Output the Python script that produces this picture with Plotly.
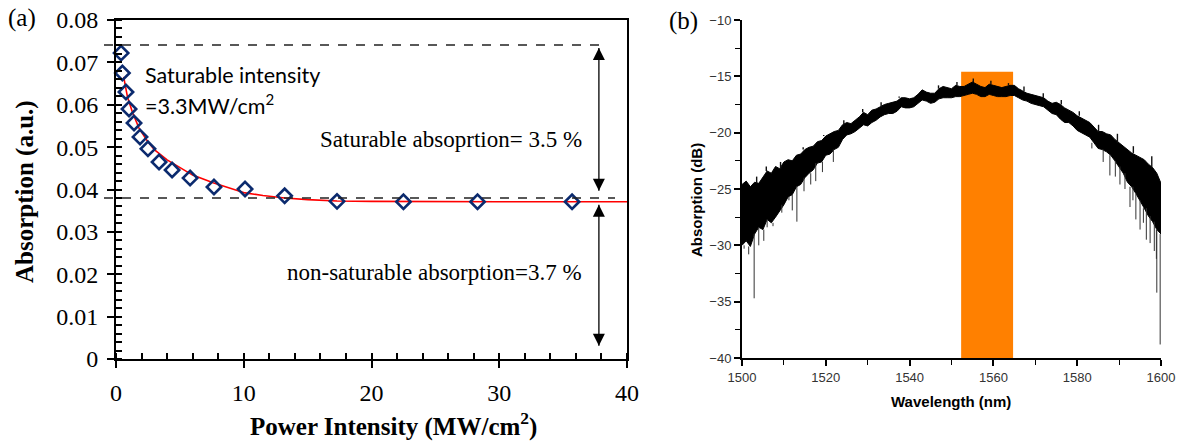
import plotly.graph_objects as go

# ---------------- Panel (a) data ----------------
intensity = [0.4, 0.5, 0.78, 1.02, 1.41, 1.88, 2.5, 3.37, 4.39, 5.8, 7.67, 10.1, 13.2, 17.3, 22.5, 28.3, 35.7]
absorption = [0.0722, 0.0675, 0.0630, 0.0590, 0.0557, 0.0524, 0.0496, 0.0465, 0.0446, 0.0427,
              0.0406, 0.0401, 0.0385, 0.0372, 0.0371, 0.0371, 0.0371]
fit_x = [0.6, 0.9, 1.3, 1.8, 2.4, 3.0, 4.0, 5.0, 6.0, 7.6, 9.0, 10.1, 11.5, 13.2, 15, 17.3, 20, 25, 30, 35, 40]
fit_y = [0.0666, 0.0618, 0.0581, 0.0545, 0.0517, 0.0494, 0.0470, 0.0451, 0.0434, 0.0416, 0.0403,
         0.0392, 0.0386, 0.0380, 0.0376, 0.0373, 0.0372, 0.0371, 0.0371, 0.0371, 0.0371]
sat_level = 0.0741
nonsat_level = 0.0380
arrow_x = 37.8
arrow_sat = [0.0734, 0.0397]
arrow_nonsat = [0.0364, 0.0031]
a_yticks = [0, 0.01, 0.02, 0.03, 0.04, 0.05, 0.06, 0.07, 0.08]
a_yticktext = ["0", "0.01", "0.02", "0.03", "0.04", "0.05", "0.06", "0.07", "0.08"]
a_xticks = [0, 10, 20, 30, 40]

# ---------------- Panel (b) data ----------------
wavelength = list(range(1500, 1601))
upper_db = [-24.6, -24.3, -24.8, -24.4, -24.5, -23.9, -23.4, -23.6, -23.0, -23.2,
            -22.6, -22.4, -22.5, -22.0, -21.9, -21.5, -21.3, -21.2, -20.8, -20.7,
            -20.3, -20.1, -19.9, -19.8, -19.3, -19.1, -19.2, -18.9, -18.6, -18.2,
            -18.4, -18.0, -17.9, -17.7, -17.5, -17.4, -17.3, -17.2, -16.9, -16.9,
            -17.0, -16.9, -16.6, -16.2, -16.4, -16.5, -16.5, -16.1, -15.9, -16.0,
            -16.1, -15.8, -15.9, -15.9, -15.7, -15.5, -15.7, -15.9, -16.0, -15.7,
            -15.8, -15.9, -16.0, -15.9, -15.8, -15.8, -16.1, -16.3, -16.5, -16.6,
            -16.7, -16.8, -16.9, -17.2, -17.4, -17.3, -17.5, -17.8, -18.0, -18.2,
            -18.5, -18.7, -18.9, -19.1, -19.5, -19.9, -19.9, -20.1, -20.2, -20.6,
            -20.9, -21.2, -21.5, -21.8, -22.0, -22.2, -22.4, -22.8, -23.1, -23.6, -24.5]
lower_db = [-30.0, -29.6, -30.1, -29.0, -28.4, -28.6, -27.7, -28.0, -27.5, -27.0,
            -26.4, -25.7, -25.5, -24.8, -24.6, -24.0, -23.6, -23.3, -22.7, -22.6,
            -22.0, -21.9, -21.5, -21.3, -20.6, -20.2, -20.1, -19.9, -19.6, -19.3,
            -19.4, -19.1, -18.9, -18.6, -18.4, -18.3, -18.3, -18.1, -17.7, -17.8,
            -17.8, -17.7, -17.4, -17.1, -17.2, -17.4, -17.3, -17.0, -16.9, -16.9,
            -16.9, -16.8, -16.8, -16.7, -16.6, -16.5, -16.6, -16.8, -16.8, -16.6,
            -16.7, -16.8, -16.8, -16.8, -16.7, -16.7, -16.9, -17.1, -17.2, -17.4,
            -17.5, -17.6, -17.7, -18.0, -18.3, -18.4, -18.8, -19.1, -19.1, -19.4,
            -19.8, -20.0, -20.2, -20.4, -20.9, -21.4, -21.5, -21.7, -22.0, -22.5,
            -23.0, -23.6, -24.4, -24.8, -25.4, -26.0, -26.7, -27.4, -27.9, -28.6, -29.0]
# downward noise spikes (wavelength, lowest dB)
spike_nm = [1500.5, 1501.6, 1502.9, 1504.0, 1505.2, 1506.0, 1507.4, 1509.5, 1511.2, 1512.0,
            1513.1, 1514.8, 1516.4, 1517.6, 1519.2, 1521.8, 1583.5, 1586.2, 1587.8, 1589.1,
            1590.2, 1591.4, 1592.6, 1593.3, 1594.0, 1595.0, 1595.8, 1596.5, 1597.4, 1598.4,
            1598.9, 1599.0, 1599.8]
spike_db = [-30.3, -30.8, -34.7, -30.0, -29.6, -28.4, -28.3, -27.1, -26.0, -26.9,
            -27.9, -25.2, -24.6, -24.3, -23.5, -22.6, -21.4, -22.6, -23.8, -23.9,
            -24.6, -25.0, -26.6, -26.0, -27.7, -28.6, -28.0, -29.5, -29.8, -30.5,
            -31.2, -34.2, -38.8]
# upward noise spikes (wavelength, highest dB)
up_nm = [1503.5, 1505.8, 1509.2, 1514.6, 1519.5, 1524.3, 1528.8, 1533.2, 1537.5, 1542.6,
         1546.9, 1551.3, 1555.2, 1559.4, 1563.6, 1567.3, 1571.9, 1576.2, 1580.5, 1585.1,
         1589.6, 1593.4, 1597.8]
up_db = [-23.9, -23.0, -22.6, -21.3, -20.2, -18.9, -17.9, -17.3, -16.8, -16.2,
         -15.8, -15.5, -15.2, -15.4, -15.6, -15.9, -16.5, -17.1, -18.1, -19.3,
         -20.1, -21.2, -22.1]
band_nm = [1552.3, 1564.7]
band_top = -14.6
b_yticks = [-40, -35, -30, -25, -20, -15, -10]
b_xticks = [1500, 1520, 1540, 1560, 1580, 1600]

W, H = 1178, 443
def px(x):
    return x / W
def py(y):
    return 1 - y / H

fig = go.Figure()

# ----- panel (a) traces -----
fig.add_trace(go.Scatter(x=fit_x, y=fit_y, mode="lines", line=dict(color="#FF0000", width=1.6),
                         xaxis="x", yaxis="y", showlegend=False, hoverinfo="skip"))
fig.add_trace(go.Scatter(x=intensity, y=absorption, mode="markers",
                         marker=dict(symbol="diamond-open", size=11, color="#0B2A6E",
                                     line=dict(width=2.6, color="#0B2A6E")),
                         xaxis="x", yaxis="y", showlegend=False, cliponaxis=False))
for ends in (arrow_sat, arrow_nonsat):
    fig.add_trace(go.Scatter(x=[arrow_x, arrow_x], y=ends, mode="lines",
                             line=dict(color="black", width=1.3), xaxis="x", yaxis="y",
                             showlegend=False, hoverinfo="skip"))
    fig.add_trace(go.Scatter(x=[arrow_x, arrow_x], y=ends, mode="markers",
                             marker=dict(symbol=["arrow-up", "arrow-down"], size=12, color="black",
                                         line=dict(width=0), standoff=0),
                             xaxis="x", yaxis="y", showlegend=False, hoverinfo="skip", cliponaxis=False))

# ----- panel (b) traces -----
poly_x = wavelength + wavelength[::-1]
poly_y = upper_db + lower_db[::-1]
fig.add_trace(go.Scatter(x=poly_x, y=poly_y, mode="lines", fill="toself", fillcolor="black",
                         line=dict(color="black", width=1.0), xaxis="x2", yaxis="y2",
                         showlegend=False, hoverinfo="skip"))
sx, sy = [], []
for nm, db in zip(spike_nm, spike_db):
    top = lower_db[int(round(nm - 1500))]
    sx += [nm, nm, None]
    sy += [top, db, None]
fig.add_trace(go.Scatter(x=sx, y=sy, mode="lines", line=dict(color="#333333", width=1),
                         xaxis="x2", yaxis="y2", showlegend=False, hoverinfo="skip"))
ux, uy = [], []
for nm, db in zip(up_nm, up_db):
    base = upper_db[int(round(nm - 1500))]
    ux += [nm, nm, None]
    uy += [base, db, None]
fig.add_trace(go.Scatter(x=ux, y=uy, mode="lines", line=dict(color="#111111", width=1.4),
                         xaxis="x2", yaxis="y2", showlegend=False, hoverinfo="skip"))

shapes = [
    dict(type="rect", xref="x2", yref="y2", x0=band_nm[0], x1=band_nm[1], y0=-40, y1=band_top,
         fillcolor="#FF8000", line=dict(width=0), layer="below"),
    dict(type="line", xref="paper", yref="y", x0=px(104), x1=px(605), y0=sat_level, y1=sat_level,
         line=dict(color="#222222", width=1.6, dash="dash")),
    dict(type="line", xref="paper", yref="y", x0=px(104), x1=px(615), y0=nonsat_level, y1=nonsat_level,
         line=dict(color="#222222", width=1.6, dash="dash")),
]

serif = "Liberation Serif, Times New Roman, serif"
sans = "Liberation Sans, Arial, sans-serif"
calib = "Lato, Open Sans, sans-serif"

annotations = [
    dict(x=px(143), y=py(75), xref="paper", yref="paper", text="Saturable intensity", showarrow=False,
         xanchor="left", yanchor="middle", font=dict(family=calib, size=21.5, color="black")),
    dict(x=px(143), y=py(104), xref="paper", yref="paper", text="=3.3MW/cm<sup>2</sup>", showarrow=False,
         xanchor="left", yanchor="middle", font=dict(family=calib, size=21.5, color="black")),
    dict(x=px(584), y=py(139), xref="paper", yref="paper", text="Saturable absoprtion= 3.5 %", showarrow=False,
         xanchor="right", yanchor="middle", font=dict(family=serif, size=23, color="black")),
    dict(x=px(584), y=py(272), xref="paper", yref="paper", text="non-saturable absorption=3.7 %", showarrow=False,
         xanchor="right", yanchor="middle", font=dict(family=serif, size=23, color="black")),
    dict(x=px(393), y=py(424), xref="paper", yref="paper", text="<b>Power Intensity (MW/cm<sup>2</sup>)</b>",
         showarrow=False, xanchor="center", yanchor="middle", font=dict(family=serif, size=25, color="black")),
    dict(x=px(25), y=py(192), xref="paper", yref="paper", text="<b>Absorption (a.u.)</b>", textangle=-90,
         showarrow=False, xanchor="center", yanchor="middle", font=dict(family=serif, size=25, color="black")),
    dict(x=px(6), y=py(18), xref="paper", yref="paper", text="(a)", showarrow=False, xanchor="left",
         yanchor="middle", font=dict(family=serif, size=25, color="black")),
    dict(x=px(667), y=py(21), xref="paper", yref="paper", text="(b)", showarrow=False, xanchor="left",
         yanchor="middle", font=dict(family=serif, size=25, color="black")),
    dict(x=px(951), y=py(401), xref="paper", yref="paper", text="<b>Wavelength (nm)</b>", showarrow=False,
         xanchor="center", yanchor="middle", font=dict(family=sans, size=15, color="black")),
    dict(x=px(697), y=py(200), xref="paper", yref="paper", text="<b>Absorption (dB)</b>", textangle=-90,
         showarrow=False, xanchor="center", yanchor="middle", font=dict(family=sans, size=15, color="black")),
]

fig.update_layout(
    width=W, height=H,
    margin=dict(l=0, r=0, t=0, b=0, autoexpand=False),
    paper_bgcolor="white", plot_bgcolor="white",
    showlegend=False,
    shapes=shapes,
    annotations=annotations,
    xaxis=dict(domain=[px(116), px(627)], range=[0, 40], tickvals=a_xticks, automargin=False,
               showline=True, linecolor="black", linewidth=2, mirror=True, showgrid=False, zeroline=False,
               ticks="outside", ticklen=7, tickwidth=2, tickcolor="black", ticklabelstandoff=4,
               minor=dict(dtick=2, ticks="inside", ticklen=6, tickwidth=1.6, tickcolor="black", showgrid=False),
               tickfont=dict(family=serif, size=24, color="black"), anchor="y", fixedrange=True),
    yaxis=dict(domain=[py(359), py(20)], range=[0, 0.08], tickvals=a_yticks, ticktext=a_yticktext,
               automargin=False,
               showline=True, linecolor="black", linewidth=2, mirror=True, showgrid=False, zeroline=False,
               ticks="outside", ticklen=7, tickwidth=2, tickcolor="black", ticklabelstandoff=4,
               minor=dict(dtick=0.002, ticks="inside", ticklen=6, tickwidth=1.6, tickcolor="black", showgrid=False),
               tickfont=dict(family=serif, size=24, color="black"), anchor="x", fixedrange=True),
    xaxis2=dict(domain=[px(742), px(1161)], range=[1500, 1600], tickvals=b_xticks, automargin=False,
                showline=True, linecolor="black", linewidth=2, showgrid=False, zeroline=False,
                ticks="outside", ticklen=6, tickwidth=1.6, tickcolor="black",
                minor=dict(dtick=10, ticks="outside", ticklen=5, tickwidth=1.4, tickcolor="black", showgrid=False),
                tickfont=dict(family=sans, size=13, color="#333333"), anchor="y2", fixedrange=True),
    yaxis2=dict(domain=[py(358), py(20)], range=[-40, -10], tickvals=b_yticks, automargin=False,
                showline=True, linecolor="black", linewidth=2, showgrid=False, zeroline=False,
                ticks="outside", ticklen=6, tickwidth=1.6, tickcolor="black",
                minor=dict(dtick=2.5, ticks="outside", ticklen=5, tickwidth=1.4, tickcolor="black", showgrid=False),
                tickfont=dict(family=sans, size=13, color="#333333"), anchor="x2", fixedrange=True),
)

fig.write_html("out.html", config={"displayModeBar": False},
               post_script="document.body.style.margin='0';document.body.style.overflow='hidden';")
